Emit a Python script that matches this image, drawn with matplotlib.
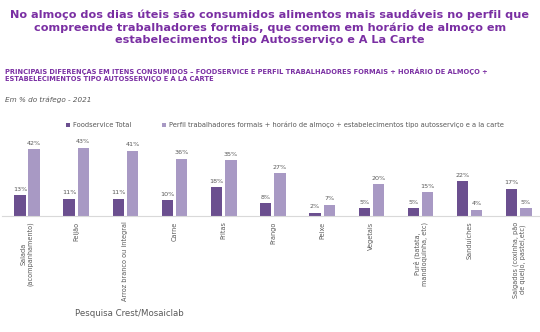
import matplotlib
matplotlib.use("Agg")
import matplotlib.pyplot as plt
import numpy as np

categories = ["Salada\n(acompanhamento)", "Feijão", "Arroz branco ou integral", "Carne", "Fritas",
              "Frango", "Peixe", "Vegetais", "Purê (batata,\nmandioquinha, etc)", "Sanduíches",
              "Salgados (coxinha, pão\nde queijo, pastel,etc)"]
foodservice_total = [13, 11, 11, 10, 18, 8, 2, 5, 5, 22, 17]
perfil = [42, 43, 41, 36, 35, 27, 7, 20, 15, 4, 5]
series_names = ["Foodservice Total",
                "Perfil trabalhadores formais + horário de almoço + estabelecimentos tipo autosserviço e a la carte"]

title = ("No almoço dos dias úteis são consumidos alimentos mais saudáveis no perfil que\n"
         "compreende trabalhadores formais, que comem em horário de almoço em\n"
         "estabelecimentos tipo Autosserviço e A La Carte")
subtitle = ("PRINCIPAIS DIFERENÇAS EM ITENS CONSUMIDOS – FOODSERVICE E PERFIL TRABALHADORES FORMAIS + HORÁRIO DE ALMOÇO +\n"
            "ESTABELECIMENTOS TIPO AUTOSSERVIÇO E A LA CARTE")
note = "Em % do tráfego - 2021"
source = "Pesquisa Crest/Mosaiclab"

dark = "#6b4f8f"
light = "#a899c4"
purple = "#7a2fa3"
gray = "#595959"

W, H = 540, 332
fig = plt.figure(figsize=(W / 100, H / 100), dpi=100)

def px(x0, y0, x1, y1):
    return [x0 / W, 1 - y1 / H, (x1 - x0) / W, (y1 - y0) / H]

ax = fig.add_axes(px(2.4, 136.5, 540, 216))
x = np.arange(len(categories))
bw = 0.23
off = 0.145
b1 = ax.bar(x - off, foodservice_total, bw, color=dark, label=series_names[0])
b2 = ax.bar(x + off, perfil, bw, color=light, label=series_names[1])
for bars in (b1, b2):
    for r in bars:
        ax.annotate(f"{int(r.get_height())}%", (r.get_x() + r.get_width() / 2, r.get_height()),
                    xytext=(0, 2.5), textcoords="offset points", ha="center", va="bottom",
                    fontsize=4.6, color=gray)
ax.set_xlim(-0.5, 10.43)
ax.set_ylim(0, 50)
for s in ["top", "right", "left"]:
    ax.spines[s].set_visible(False)
ax.spines["bottom"].set_color("#d9d9d9")
ax.spines["bottom"].set_linewidth(0.8)
ax.set_yticks([])
ax.set_xticks(x)
ax.set_xticklabels(categories, rotation=90, fontsize=4.7, color=gray, va="top", ha="center",
                   linespacing=1.1)
ax.tick_params(axis="x", length=0, pad=4)

fig.legend(handles=[b1, b2], labels=series_names, loc="center left",
           bbox_to_anchor=(66 / W, 1 - 125 / H), ncol=2, frameon=False, fontsize=4.85,
           handlelength=0.6, handleheight=0.6, handletextpad=0.4, columnspacing=4.6,
           labelcolor=gray, borderaxespad=0, borderpad=0)

fig.text(0.5, 1 - 27.5 / H, title, ha="center", va="center", fontsize=8.1, color=purple,
         fontweight="bold", linespacing=1.28)
fig.text(5 / W, 1 - 75 / H, subtitle, ha="left", va="center", fontsize=4.75, color=purple,
         fontweight="bold", linespacing=1.3)
fig.text(5 / W, 1 - 100 / H, note, ha="left", va="center", fontsize=5.2, color=gray, style="italic")
fig.text(129 / W, 1 - 314 / H, source, ha="center", va="center", fontsize=6.2, color=gray)

fig.savefig("out.png", dpi=100)
